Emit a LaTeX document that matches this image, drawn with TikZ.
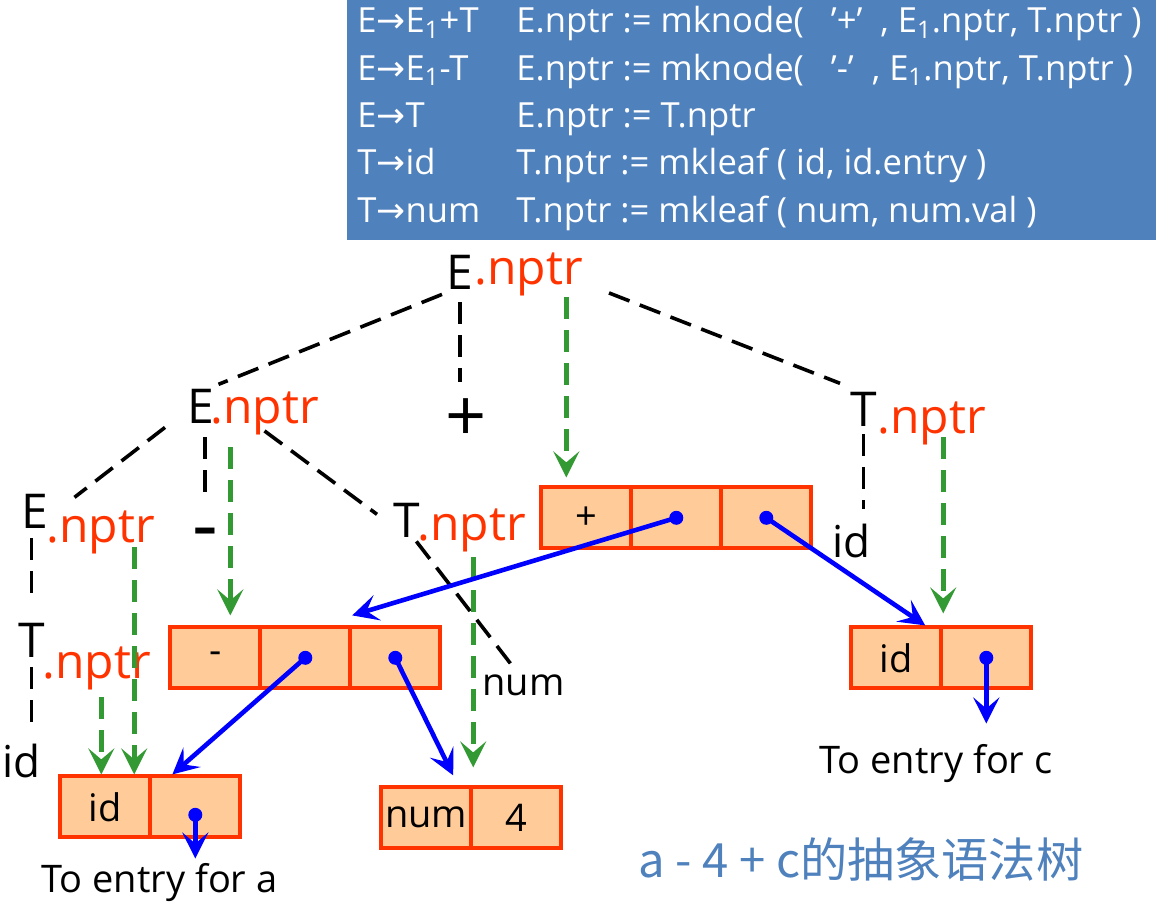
\documentclass[tikz,border=0pt]{standalone}
\usepackage{fontspec}
\setmainfont{Open Sans}
\newfontfamily\arrowfont{DejaVu Sans}
\newfontfamily\cjk{Noto Sans CJK SC}
\usetikzlibrary{matrix}
\usetikzlibrary{arrows.meta}
\definecolor{rulebg}{HTML}{4F81BD}
\definecolor{ptrred}{HTML}{FF3300}
\definecolor{boxfill}{HTML}{FFCC99}
\definecolor{flowgreen}{HTML}{339933}
\newcommand{\ra}{{\arrowfont →}}
\tikzset{
rulebox/.style={fill=rulebg, anchor=north west, inner sep=0pt,
  minimum width=404.5pt, minimum height=120pt},
rule/.style={text=white, anchor=base west, inner sep=0pt,
  font=\fontsize{17.3}{17.3}\selectfont},
sym/.style={inner sep=2pt, anchor=base west, font=\fontsize{24}{24}\selectfont},
nptr/.style={sym, text=ptrred},
leaf/.style={inner sep=2pt, anchor=base west, font=\fontsize{22}{22}\selectfont},
small/.style={inner sep=2pt, anchor=base west, font=\fontsize{19}{19}\selectfont},
rec/.style={
  matrix of nodes,
  anchor=north west,
  column sep=-1.9pt,
  inner sep=0pt,
  nodes={draw=ptrred, fill=boxfill, line width=1.9pt, rectangle, anchor=center,
    minimum width=45pt, minimum height=30.5pt, inner sep=0pt,
    font=\fontsize{19}{19}\selectfont},
  nodes in empty cells
},
tree/.style={black, line width=1.8pt, dash pattern=on 11pt off 5.5pt},
flow/.style={flowgreen, line width=2.3pt, dash pattern=on 11pt off 5.5pt,
  -{Stealth[length=13pt,width=13pt,inset=5.5pt]}},
ptr/.style={blue, line width=2.3pt, -{Stealth[length=13pt,width=13pt,inset=5.5pt]}},
}
\begin{document}
\begin{tikzpicture}[x=0.5pt,y=-0.5pt]
\useasboundingbox (0,0) rectangle (1156,909);
% the rules
\node[rulebox] (rules) at (347,0) {};
\foreach \lhs/\rhs [count=\i] in {
  {E\ra E\textsubscript{1}+T}/{E.nptr := mknode(\ \ \ ’+’\ \ , E\textsubscript{1}.nptr, T.nptr )},
  {E\ra E\textsubscript{1}-T}/{E.nptr := mknode(\ \ \ ’-’\ \ , E\textsubscript{1}.nptr, T.nptr )},
  {E\ra T}/{E.nptr := T.nptr},
  {T\ra id}/{T.nptr := mkleaf ( id, id.entry )},
  {T\ra num}/{T.nptr := mkleaf ( num, num.val )}}
{
  \node[rule] (lhs\i) at (357,{33+47.3*(\i-1)}) {\lhs};
  \node[rule] (rhs\i) at (516,{33+47.3*(\i-1)}) {\rhs};
}
% the tree
\node[sym] (rootE) at (442,290) {E};
\node[nptr] (rootN) at (470,285) {.nptr};
\node[sym] (midE) at (183,423) {E};
\node[nptr] (midN) at (206,423) {.nptr};
\node[sym, anchor=center, font=\fontsize{36}{36}\selectfont] (plus) at (466,420) {+};
\node[sym] (rightT) at (846,426) {T};
\node[nptr] (rightN) at (873,433) {.nptr};
\node[sym] (leftE) at (17,528) {E};
\node[nptr] (leftN) at (42,542) {.nptr};
\node[sym, anchor=center, font=\fontsize{40}{40}\selectfont] (minus) at (205,540) {-};
\node[sym] (midT) at (389,537) {T};
\node[nptr] (midTN) at (413,540) {.nptr};
\node[sym] (lowT) at (14,657) {T};
\node[nptr] (lowN) at (38,678) {.nptr};
\node[leaf] (idL) at (-2,777) {id};
\node[small] (num) at (478,695) {num};
\node[leaf] (idR) at (828,557) {id};
\draw[tree] (rootE.south west) -- (midE.north east);
\draw[tree] ([yshift=-4pt]rootE.south) -- ([yshift=6pt]rootE.south |- plus.north);
\draw[tree] ([shift={(11pt,4pt)}]rootN.south east) -- ([shift={(-3pt,2pt)}]rightT.north west);
\draw[tree] ([xshift=-9pt]midE.south west) -- ([shift={(11pt,-4pt)}]leftE.north east);
\draw[tree] ([yshift=-5pt]minus.north |- midE.south) -- ([yshift=10pt]minus.north);
\draw[tree] ([yshift=4pt]midN.south) -- ([shift={(-6pt,-8pt)}]midT.north west);
\draw[tree] ([yshift=-3pt]lowT.north |- leftE.south) -- ([yshift=9pt]lowT.north);
\draw[tree] ([yshift=-3pt]lowT.south) -- ([yshift=3pt]lowT.south |- idL.north);
\draw[tree] ([xshift=-4pt]midT.south east) -- ([xshift=-4pt]num.north);
\draw[tree] ([yshift=-2pt]rightT.south) -- ([yshift=5pt]rightT.south |- idR.north);
% the records
\matrix (pbox) [rec] at (539,485) { + & & \\ };
\matrix (mbox) [rec] at (168,625) { - & & \\ };
\matrix (ida) [rec] at (58,774) { id & \\ };
\matrix (nbox) [rec] at (379,785) { num & 4 \\ };
\matrix (idc) [rec] at (849,625) { id & \\ };
\node[small] (toa) at (37,892) {To entry for a};
\node[small] (toc) at (815,773) {To entry for c};
\node[anchor=base west, inner sep=0pt, text=rulebg, font=\cjk\fontsize{23.6}{23.6}\selectfont]
  (title) at (638,877) {a - 4 + c的抽象语法树};
% the green arrows
\coordinate (fa) at ([xshift=-10pt]pbox-1-1.north);
\coordinate (fb) at ([xshift=7.5pt]mbox-1-1.north);
\coordinate (fc) at ([xshift=-9pt]ida-1-1.north east);
\coordinate (fd) at ([xshift=-2pt]ida-1-1.north);
\coordinate (fe) at (nbox-1-1.north east);
\coordinate (ff) at (idc-1-1.north east);
\draw[flow] ([yshift=-6pt]fa |- rootN.base) -- ([yshift=4pt]fa);
\draw[flow] ([yshift=-12pt]fb |- midN.base) -- ([yshift=5pt]fb);
\draw[flow] ([yshift=-2.5pt]fc |- leftN.base) -- (fc);
\draw[flow] ([yshift=-9.5pt]fd |- lowN.base) -- (fd);
\draw[flow] ([yshift=-8.5pt]fe |- midTN.base) -- ([yshift=9pt]fe);
\draw[flow] ([yshift=-2pt]ff |- rightN.base) -- ([yshift=6pt]ff);
% the pointers
\foreach \c in {pbox-1-2,pbox-1-3,mbox-1-2,mbox-1-3,idc-1-2}
  \fill[blue] (\c.center) circle (3.5pt);
\fill[blue] ([yshift=-4pt]ida-1-2.center) circle (3.5pt);
\draw[ptr] (pbox-1-2.center) -- ([yshift=5pt]mbox-1-2.north east);
\draw[ptr] (pbox-1-3.center) -- ([xshift=-9pt]idc-1-1.north east);
\draw[ptr] (mbox-1-2.center) -- ([xshift=12pt]ida-1-2.north west);
\draw[ptr] (mbox-1-3.center) -- ([shift={(-10pt,5pt)}]nbox-1-1.north east);
\draw[ptr] ([yshift=-4pt]ida-1-2.center) -- (ida-1-2.center |- toa.north);
\draw[ptr] (idc-1-2.center) -- ([yshift=8pt]idc-1-2.center |- toc.north);
\end{tikzpicture}
\end{document}
